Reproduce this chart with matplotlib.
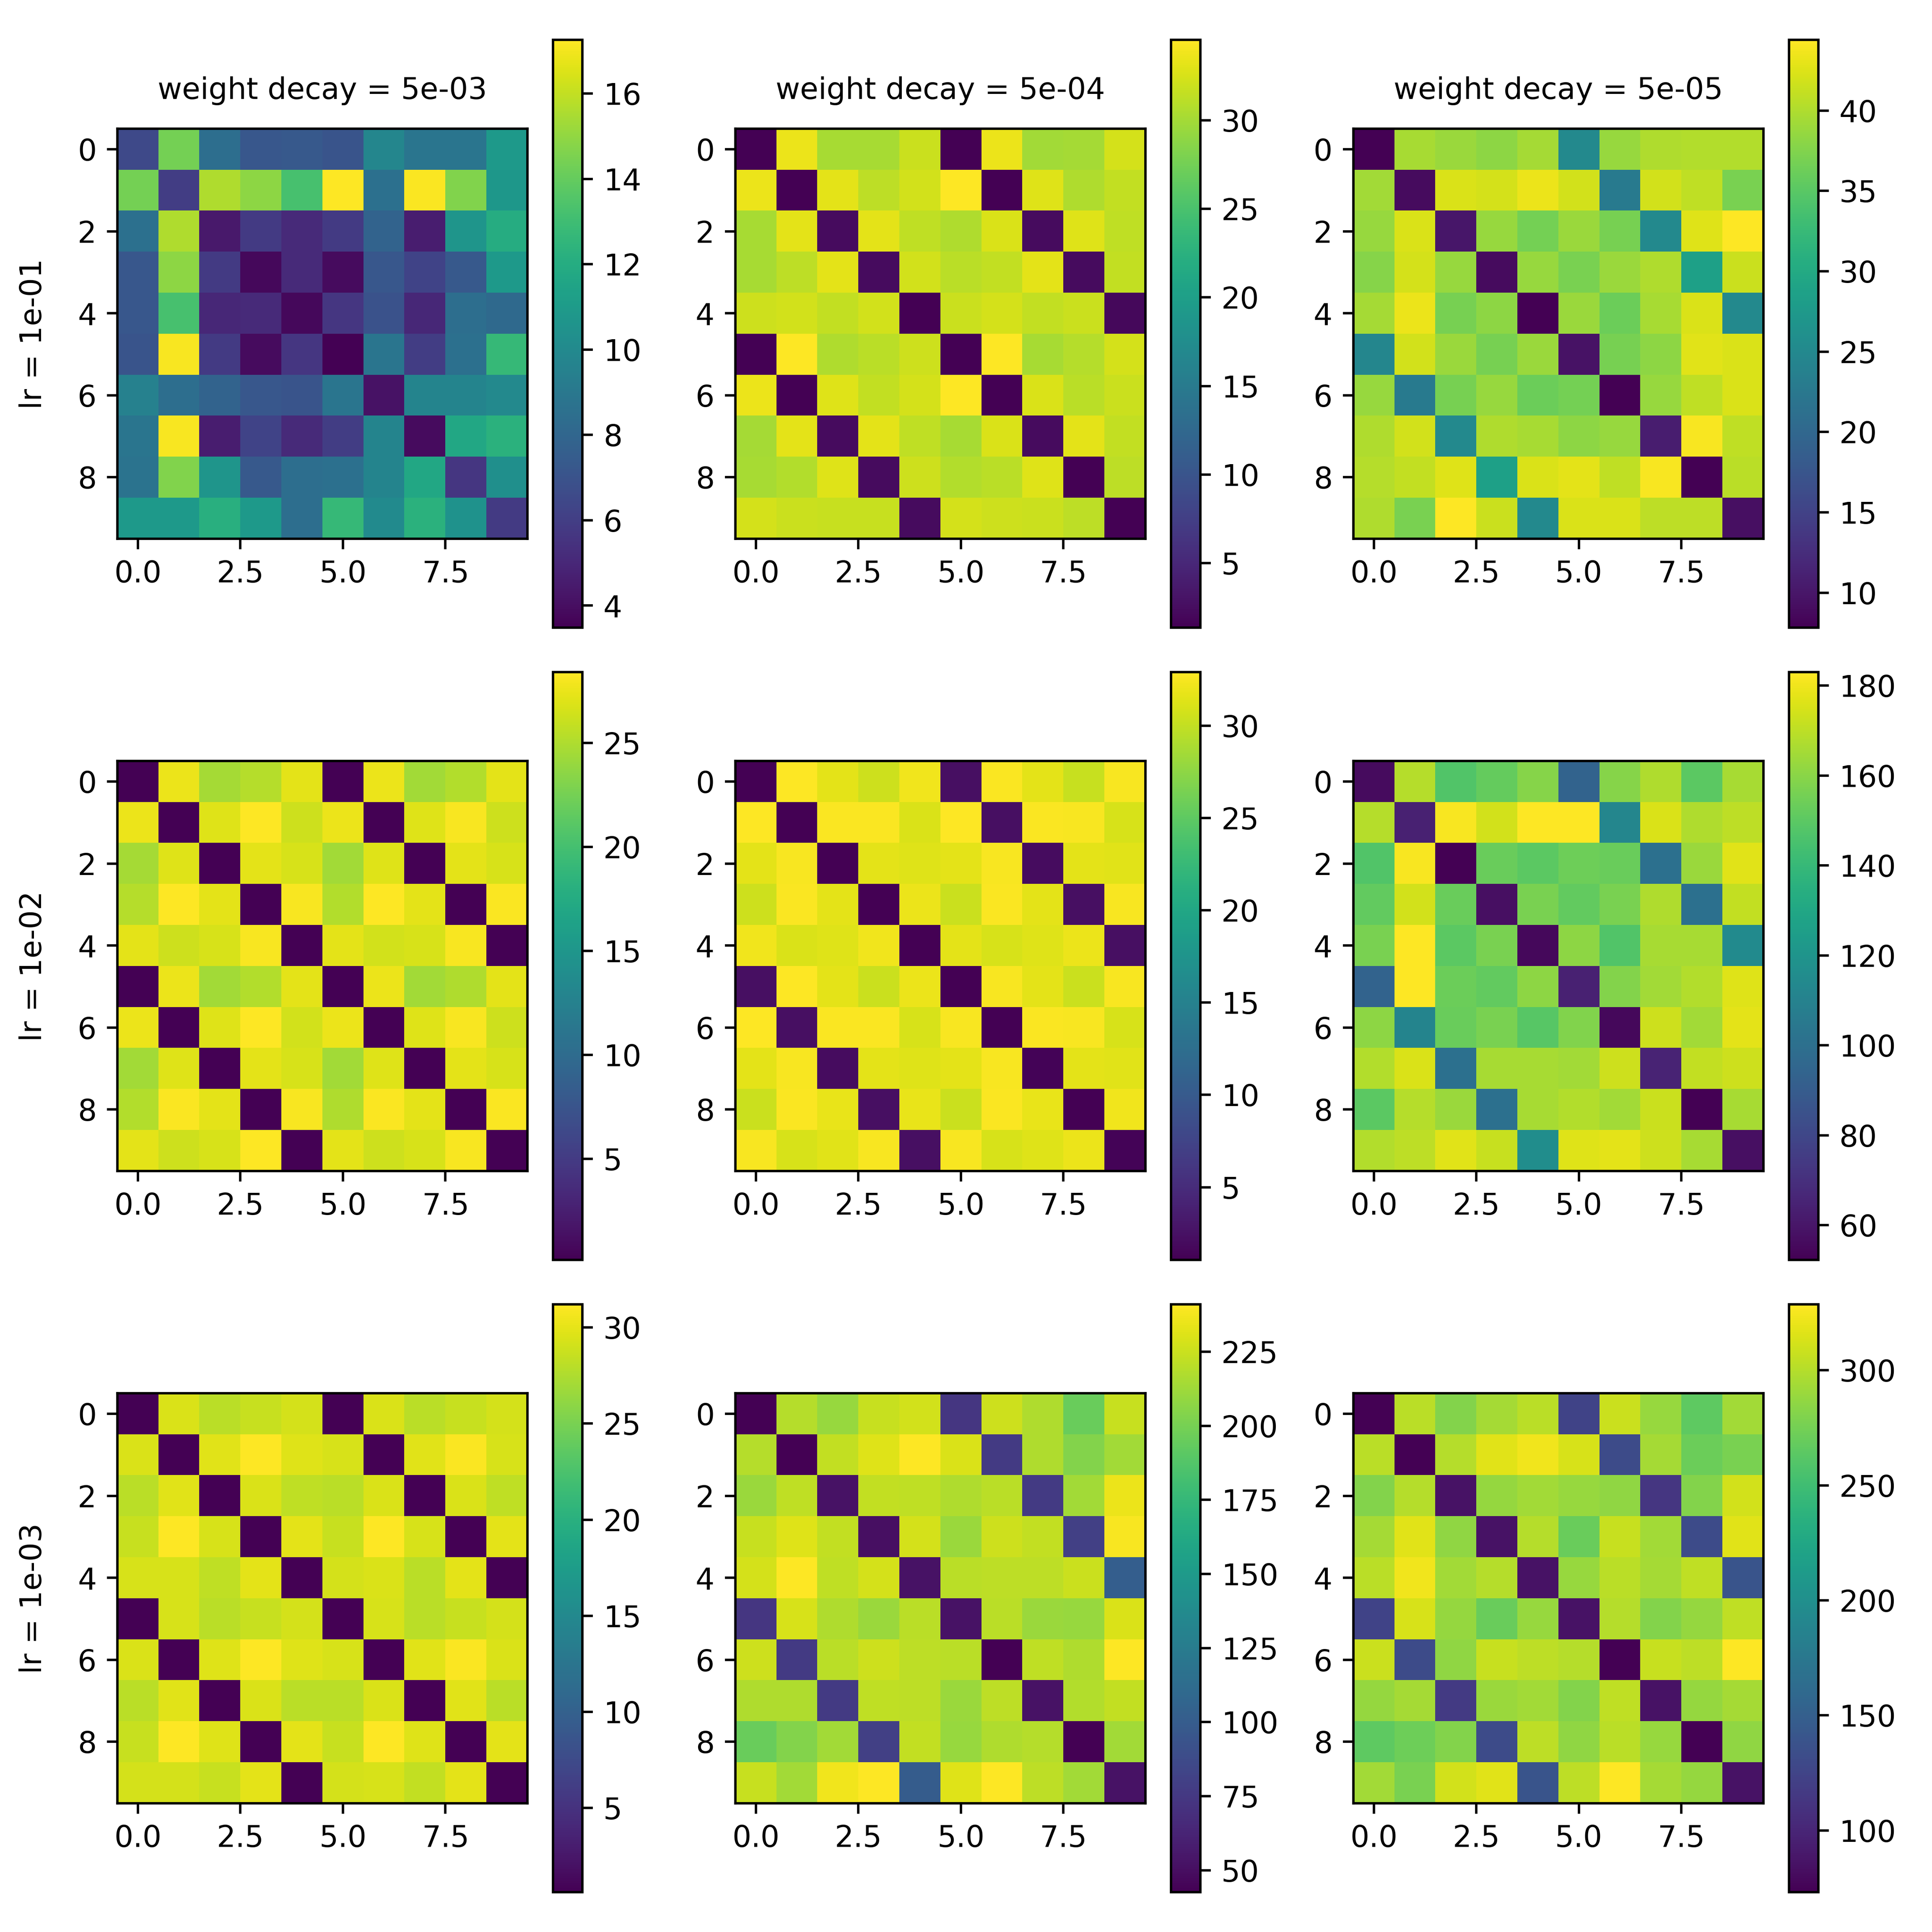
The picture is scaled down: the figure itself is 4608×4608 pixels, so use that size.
import numpy as np
import matplotlib
matplotlib.use("Agg")
import matplotlib.pyplot as plt

lr_labels = ["1e-01", "1e-02", "1e-03"]
wd_labels = ["5e-03", "5e-04", "5e-05"]

# lr = 1e-01
m_lr1_wd3 = [
    [6.51, 14.37, 8.44, 7.20, 7.34, 7.06, 9.82, 8.85, 8.85, 10.92],
    [14.37, 5.96, 15.61, 14.92, 13.26, 17.26, 8.58, 17.20, 14.64, 10.78],
    [8.58, 15.61, 4.44, 5.82, 5.13, 5.82, 7.89, 4.58, 10.65, 12.02],
    [7.20, 14.92, 5.82, 3.76, 5.13, 3.89, 7.20, 6.24, 7.34, 10.92],
    [7.20, 13.26, 5.00, 5.13, 3.76, 5.68, 6.93, 5.00, 8.44, 8.17],
    [7.06, 17.10, 5.82, 3.89, 5.68, 3.48, 8.85, 5.96, 8.58, 12.71],
    [9.54, 8.44, 7.89, 7.20, 7.06, 8.85, 4.17, 9.68, 9.68, 9.96],
    [8.85, 17.15, 4.58, 6.24, 5.13, 5.96, 9.68, 3.89, 11.75, 12.30],
    [8.72, 14.64, 10.65, 7.34, 8.44, 8.58, 9.68, 11.75, 5.68, 10.37],
    [10.92, 10.92, 12.16, 10.92, 8.44, 12.71, 10.09, 12.30, 10.51, 5.82],
]
m_lr1_wd4 = [
    [1.35, 33.55, 30.23, 30.23, 31.90, 1.35, 33.55, 29.90, 30.07, 32.39],
    [33.55, 1.35, 33.22, 31.23, 32.23, 34.55, 1.35, 32.89, 30.57, 31.56],
    [30.23, 33.22, 2.35, 33.22, 31.40, 30.57, 32.72, 2.35, 32.89, 31.40],
    [30.23, 31.23, 33.22, 2.35, 32.23, 31.06, 31.56, 33.22, 2.35, 31.56],
    [32.06, 32.23, 31.56, 32.23, 1.35, 31.90, 32.39, 31.56, 31.90, 2.01],
    [1.35, 34.50, 30.57, 31.06, 32.06, 1.35, 34.45, 30.23, 30.90, 32.39],
    [33.55, 1.35, 32.89, 31.56, 32.39, 34.52, 1.35, 32.72, 31.06, 31.90],
    [30.07, 33.22, 2.35, 33.22, 31.40, 30.23, 32.72, 2.35, 33.22, 31.56],
    [30.23, 30.73, 32.89, 2.35, 32.06, 30.73, 31.06, 32.89, 1.35, 31.23],
    [32.39, 31.90, 31.73, 31.73, 2.35, 32.39, 32.06, 31.90, 31.23, 1.35],
]
m_lr1_wd5 = [
    [7.83, 39.65, 38.91, 38.18, 39.46, 25.02, 38.73, 40.01, 40.19, 40.19],
    [39.28, 8.93, 42.39, 42.02, 43.30, 41.84, 22.82, 41.84, 40.93, 37.09],
    [38.73, 42.39, 10.02, 38.73, 36.72, 38.91, 36.90, 25.02, 42.57, 44.40],
    [37.82, 42.02, 38.73, 8.93, 38.73, 37.09, 38.91, 40.01, 28.67, 41.47],
    [39.46, 43.30, 36.90, 38.18, 7.83, 38.91, 36.17, 39.65, 42.39, 25.02],
    [24.65, 41.84, 38.91, 36.90, 38.91, 9.66, 36.90, 38.18, 42.75, 42.39],
    [38.73, 22.82, 36.90, 38.73, 36.17, 36.72, 7.83, 38.73, 40.93, 42.39],
    [40.01, 41.84, 25.02, 40.01, 39.65, 38.18, 38.73, 10.76, 44.03, 40.93],
    [40.38, 41.11, 42.57, 28.67, 42.39, 42.94, 40.93, 44.03, 7.83, 40.56],
    [40.01, 37.09, 44.35, 41.47, 25.02, 42.39, 42.39, 40.74, 40.74, 9.29],
]

# lr = 1e-02
m_lr2_wd3 = [
    [0.15, 27.55, 24.59, 25.29, 27.27, 0.15, 27.55, 24.45, 25.15, 27.27],
    [27.55, 0.15, 26.99, 28.40, 26.28, 27.55, 0.15, 26.99, 28.12, 26.28],
    [24.59, 26.99, 0.15, 27.27, 26.71, 24.45, 26.99, 0.15, 27.27, 26.71],
    [25.29, 28.38, 27.27, 0.15, 28.12, 25.15, 28.38, 27.27, 0.15, 28.26],
    [27.27, 26.28, 26.71, 28.12, 0.15, 27.27, 26.42, 26.71, 28.12, 0.15],
    [0.15, 27.55, 24.45, 25.15, 27.27, 0.15, 27.55, 24.45, 25.01, 27.27],
    [27.55, 0.15, 26.99, 28.36, 26.42, 27.55, 0.15, 26.99, 28.12, 26.28],
    [24.45, 26.99, 0.15, 27.27, 26.71, 24.45, 26.99, 0.15, 27.27, 26.71],
    [25.15, 28.26, 27.27, 0.15, 28.12, 25.01, 28.26, 27.27, 0.15, 28.26],
    [27.27, 26.28, 26.71, 28.35, 0.15, 27.27, 26.28, 26.71, 28.12, 0.15],
]
m_lr2_wd4 = [
    [1.06, 32.85, 31.63, 30.51, 32.26, 2.33, 32.74, 31.63, 30.19, 32.58],
    [32.88, 1.06, 32.74, 32.74, 31.15, 32.90, 2.33, 32.74, 32.58, 30.99],
    [31.63, 32.58, 1.06, 31.63, 31.31, 31.63, 32.58, 2.17, 31.63, 31.47],
    [30.51, 32.74, 31.63, 1.06, 31.94, 30.35, 32.74, 31.63, 2.33, 32.58],
    [32.26, 31.15, 31.31, 32.26, 1.06, 31.63, 30.99, 31.31, 31.94, 2.33],
    [2.33, 32.87, 31.63, 30.35, 31.94, 1.06, 32.58, 31.63, 30.35, 32.58],
    [32.86, 2.33, 32.74, 32.74, 30.99, 32.58, 1.06, 32.74, 32.58, 30.99],
    [31.63, 32.58, 2.17, 31.63, 31.31, 31.63, 32.58, 1.38, 31.63, 31.47],
    [30.35, 32.74, 31.79, 2.33, 31.79, 30.35, 32.74, 31.79, 1.06, 32.26],
    [32.58, 30.99, 31.47, 32.58, 2.33, 32.58, 30.99, 31.31, 31.94, 1.38],
]
m_lr2_wd5 = [
    [56.2, 168.6, 147.7, 152.3, 159.5, 94.1, 159.5, 167.3, 150.3, 166.0],
    [168.6, 64.1, 181.7, 173.9, 183.0, 182.8, 112.4, 175.8, 167.3, 169.9],
    [147.7, 181.7, 52.3, 152.9, 150.3, 154.2, 152.9, 100.7, 163.4, 177.1],
    [151.6, 173.9, 152.9, 57.5, 156.9, 151.6, 156.9, 167.3, 100.7, 171.2],
    [156.9, 182.9, 150.3, 156.9, 54.9, 160.8, 147.7, 166.0, 166.0, 115.0],
    [94.1, 182.7, 153.6, 151.6, 160.8, 64.1, 158.8, 164.7, 168.0, 176.5],
    [160.8, 111.1, 152.9, 156.9, 149.0, 158.2, 54.9, 173.2, 164.7, 177.8],
    [168.0, 175.8, 100.7, 166.0, 166.0, 164.7, 173.2, 65.4, 171.2, 173.2],
    [150.3, 168.6, 163.4, 100.7, 166.0, 168.0, 164.7, 172.5, 52.3, 166.0],
    [168.0, 169.9, 177.1, 171.9, 116.3, 176.5, 177.8, 173.2, 166.0, 57.5],
]

# lr = 1e-03
m_lr3_wd3 = [
    [0.62, 29.52, 27.99, 28.60, 29.21, 0.62, 29.52, 27.99, 28.60, 29.21],
    [29.52, 0.62, 29.82, 31.20, 29.67, 29.37, 0.62, 29.82, 31.05, 29.37],
    [27.99, 29.82, 0.62, 29.52, 28.30, 27.99, 29.52, 0.62, 29.52, 28.30],
    [28.60, 31.18, 29.37, 0.62, 29.98, 28.60, 31.18, 29.37, 0.62, 29.98],
    [29.37, 29.37, 28.30, 29.98, 0.62, 29.21, 29.52, 27.99, 29.98, 0.62],
    [0.62, 29.37, 27.99, 28.60, 29.21, 0.62, 29.37, 27.99, 28.60, 29.21],
    [29.52, 0.62, 29.67, 31.16, 29.67, 29.37, 0.62, 29.82, 31.05, 29.52],
    [27.99, 29.82, 0.62, 29.52, 27.99, 27.99, 29.52, 0.62, 29.82, 27.99],
    [28.60, 31.15, 29.67, 0.62, 29.98, 28.60, 31.15, 29.67, 0.62, 29.98],
    [29.21, 29.21, 28.60, 29.98, 0.62, 29.21, 29.37, 28.45, 29.98, 0.62],
]
m_lr3_wd4 = [
    [42.6, 219.2, 210.2, 224.1, 227.1, 74.3, 226.1, 217.2, 195.4, 224.1],
    [219.2, 42.6, 223.1, 231.1, 241.0, 230.1, 76.3, 217.2, 204.3, 213.2],
    [211.2, 222.2, 52.5, 223.1, 222.2, 217.2, 220.2, 76.3, 213.2, 235.0],
    [224.1, 231.1, 223.1, 50.5, 228.1, 211.2, 226.1, 223.1, 80.3, 239.0],
    [228.1, 240.8, 222.2, 228.1, 52.5, 220.2, 221.2, 221.2, 225.1, 102.1],
    [74.3, 229.1, 217.2, 211.2, 220.2, 52.5, 220.2, 211.2, 210.2, 230.1],
    [226.1, 76.3, 220.2, 226.1, 221.2, 220.2, 42.6, 222.2, 217.2, 240.9],
    [217.2, 217.2, 76.3, 222.2, 221.2, 211.2, 221.2, 52.5, 218.2, 223.1],
    [195.4, 204.3, 213.2, 80.3, 223.1, 210.2, 217.2, 219.2, 42.6, 213.2],
    [224.1, 213.2, 237.0, 240.7, 100.1, 231.1, 240.6, 221.2, 213.2, 52.5],
]
m_lr3_wd5 = [
    [73.2, 301.8, 281.4, 294.1, 301.8, 124.3, 308.2, 289.0, 264.8, 292.8],
    [301.8, 73.2, 300.5, 317.1, 323.5, 313.3, 131.9, 294.1, 271.1, 277.5],
    [281.4, 300.5, 86.0, 287.7, 292.8, 289.0, 286.5, 114.1, 281.4, 310.7],
    [294.1, 317.1, 286.5, 86.0, 300.5, 269.9, 306.9, 292.8, 131.9, 317.1],
    [301.8, 323.5, 292.8, 300.5, 86.0, 289.0, 301.8, 294.1, 304.3, 139.6],
    [124.3, 313.3, 287.7, 269.9, 289.0, 86.0, 300.5, 281.4, 287.7, 304.3],
    [308.2, 131.9, 286.5, 306.9, 303.1, 300.5, 73.2, 306.9, 303.1, 328.6],
    [287.7, 294.1, 116.6, 290.3, 292.8, 281.4, 304.3, 86.0, 287.7, 294.1],
    [264.8, 272.4, 281.4, 131.9, 303.1, 286.5, 301.8, 289.0, 73.2, 286.5],
    [292.8, 277.5, 310.7, 317.1, 139.6, 303.1, 328.4, 294.1, 287.7, 86.0],
]

grids = [
    [m_lr1_wd3, m_lr1_wd4, m_lr1_wd5],
    [m_lr2_wd3, m_lr2_wd4, m_lr2_wd5],
    [m_lr3_wd3, m_lr3_wd4, m_lr3_wd5],
]

fig, axes = plt.subplots(3, 3, figsize=(9, 9))
fig.subplots_adjust(left=0.0608, right=0.9657, top=0.9794, bottom=0.0206,
                    wspace=0.206, hspace=0.0756)
for i in range(3):
    for j in range(3):
        ax = axes[i, j]
        im = ax.imshow(np.array(grids[i][j]), cmap="viridis")
        fig.colorbar(im, ax=ax)
        if i == 0:
            ax.set_title(f"weight decay = {wd_labels[j]}", fontsize=10, pad=10)
        if j == 0:
            ax.set_ylabel(f"lr = {lr_labels[i]}", labelpad=10)
fig.savefig("out.png", dpi=512)
